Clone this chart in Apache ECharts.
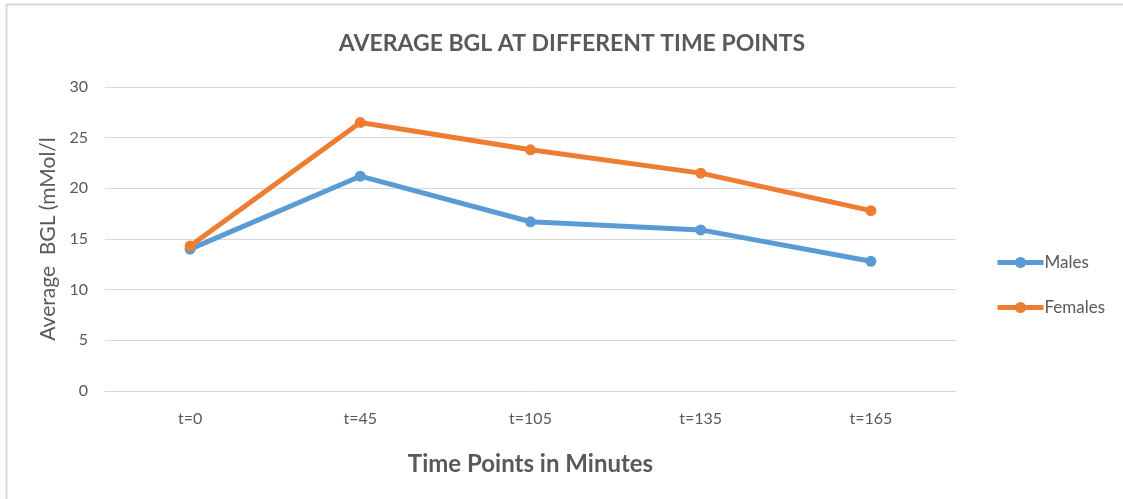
<!DOCTYPE html>
<html>
<head>
<meta charset="utf-8">
<script src="https://cdn.jsdelivr.net/npm/echarts@6/dist/echarts.min.js"></script>
<style>html,body{margin:0;padding:0;background:#fff;}#c{width:1123px;height:499px;}</style>
</head>
<body>
<div id="c"></div>
<script>
const categories = ['t=0', 't=45', 't=105', 't=135', 't=165'];
const males = [14.0, 21.2, 16.7, 15.9, 12.8];
const females = [14.3, 26.5, 23.8, 21.5, 17.8];
const seriesNames = ['Males', 'Females'];
const FONT = 'Lato, "Open Sans", sans-serif';
const chart = echarts.init(document.getElementById('c'), null, {renderer: 'canvas'});
chart.setOption({
  backgroundColor: '#ffffff',
  animation: false,
  title: {
    text: 'AVERAGE BGL AT DIFFERENT TIME POINTS',
    left: 567, top: 27, textAlign: 'center',
    textStyle: {fontFamily: FONT, fontSize: 23, fontWeight: 'bold', color: '#595959'}
  },
  graphic: [
    {type: 'line', shape: {x1: 6.5, y1: 4, x2: 6.5, y2: 499}, style: {stroke: '#d9d9d9', lineWidth: 2}},
    {type: 'line', shape: {x1: 6, y1: 4.5, x2: 1123, y2: 4.5}, style: {stroke: '#d9d9d9', lineWidth: 2}}
  ],
  legend: {
    orient: 'vertical',
    left: 990, top: 249,
    itemWidth: 46, itemHeight: 14, itemGap: 28,
    data: seriesNames,
    lineStyle: {width: 5},
    textStyle: {fontFamily: FONT, fontSize: 17, color: '#595959', padding: [0, 0, 0, -4]}
  },
  grid: {left: 105, right: 167, top: 87, bottom: 108, containLabel: false},
  xAxis: {
    type: 'category',
    data: categories,
    boundaryGap: true,
    axisLine: {show: true, lineStyle: {color: '#d9d9d9', width: 1}},
    axisTick: {show: false},
    axisLabel: {fontFamily: FONT, fontSize: 16, color: '#595959', margin: 20},
    name: 'Time Points in Minutes',
    nameLocation: 'middle',
    nameGap: 61,
    nameTextStyle: {fontFamily: FONT, fontSize: 24, fontWeight: 'bold', color: '#595959'}
  },
  yAxis: {
    type: 'value',
    min: 0, max: 30, interval: 5,
    axisLine: {show: false},
    axisTick: {show: false},
    axisLabel: {fontFamily: FONT, fontSize: 16, color: '#595959', margin: 17},
    splitLine: {lineStyle: {color: '#d9d9d9', width: 1}},
    name: 'Average  BGL (mMol/l',
    nameLocation: 'middle',
    nameGap: 46,
    nameTextStyle: {fontFamily: FONT, fontSize: 21, color: '#595959'}
  },
  series: [
    {
      name: seriesNames[0], type: 'line', data: males,
      symbol: 'circle', symbolSize: 11,
      lineStyle: {color: '#5B9BD5', width: 5},
      itemStyle: {color: '#5B9BD5'}
    },
    {
      name: seriesNames[1], type: 'line', data: females,
      symbol: 'circle', symbolSize: 11,
      lineStyle: {color: '#ED7D31', width: 5},
      itemStyle: {color: '#ED7D31'}
    }
  ]
});
</script>
</body>
</html>
